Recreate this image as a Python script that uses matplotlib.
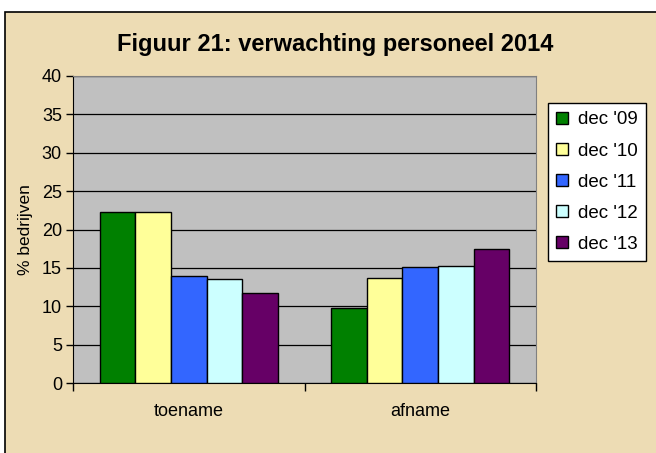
import numpy as np
import matplotlib
matplotlib.use('Agg')
import matplotlib.pyplot as plt
from matplotlib.patches import Rectangle

plt.rcParams['font.family'] = ['Liberation Sans', 'DejaVu Sans']

# data
categorieen = ['toename', 'afname']
reeksen = ["dec '09", "dec '10", "dec '11", "dec '12", "dec '13"]
dec09 = [22.3, 9.8]
dec10 = [22.3, 13.7]
dec11 = [13.9, 15.1]
dec12 = [13.5, 15.3]
dec13 = [11.8, 17.4]
kleuren = ['#008000', '#FFFF99', '#3366FF', '#CCFFFF', '#660066']

waarden = [dec09, dec10, dec11, dec12, dec13]

fig = plt.figure(figsize=(6.56, 4.53), dpi=100, facecolor='white')

# chart area with parchment background and black border
W, H = 656.0, 453.0
fig.patches.append(Rectangle((5 / W, -0.05), 1.1, 1 - 12 / H + 0.05,
                             transform=fig.transFigure, facecolor='#EDDCB4',
                             edgecolor='black', linewidth=1.2, zorder=-5))

ax = fig.add_axes([73 / W, 1 - 383.3 / H, (536 - 73) / W, (383.3 - 75.7) / H])
ax.set_facecolor('#C0C0C0')

x = np.arange(len(categorieen))
breedte = 1 / 6.5
for i, (naam, vals) in enumerate(zip(reeksen, waarden)):
    ax.bar(x + (i - 2) * breedte, vals, breedte, color=kleuren[i],
           edgecolor='black', linewidth=1.0, label=naam, zorder=3)

ax.set_xlim(-0.5, 1.5)
ax.set_ylim(0, 40)
ax.set_yticks(np.arange(0, 41, 5))
ax.yaxis.grid(True, color='black', linewidth=0.9, zorder=1)
ax.set_axisbelow(True)

ax.set_xticks([-0.5, 0.5, 1.5])
ax.set_xticklabels([])
ax.set_xticks(x, minor=True)
ax.set_xticklabels(categorieen, minor=True, fontsize=13)
ax.tick_params(axis='x', which='minor', length=0, pad=14)
ax.tick_params(axis='x', which='major', length=6, width=1, color='black')
ax.tick_params(axis='y', length=5, width=1, labelsize=13, pad=3)

for s in ['top', 'right']:
    ax.spines[s].set_color('#808080')
ax.spines['left'].set_color('black')
ax.spines['bottom'].set_color('black')

ax.set_ylabel('% bedrijven', fontsize=12.5, labelpad=6)

fig.text(335 / W, 1 - 45 / H, 'Figuur 21: verwachting personeel 2014',
         ha='center', va='center', fontsize=17, fontweight='bold')

leg = ax.legend(loc='upper left', bbox_to_anchor=(548 / W, 1 - 103 / H),
                bbox_transform=fig.transFigure, fontsize=13.5, frameon=True,
                fancybox=False, edgecolor='black', framealpha=1,
                handlelength=0.6, handleheight=0.6, handletextpad=0.55,
                labelspacing=0.75, borderpad=0.45, borderaxespad=0)
leg.get_frame().set_linewidth(1.0)

fig.savefig('out.png', dpi=100, facecolor='white')
